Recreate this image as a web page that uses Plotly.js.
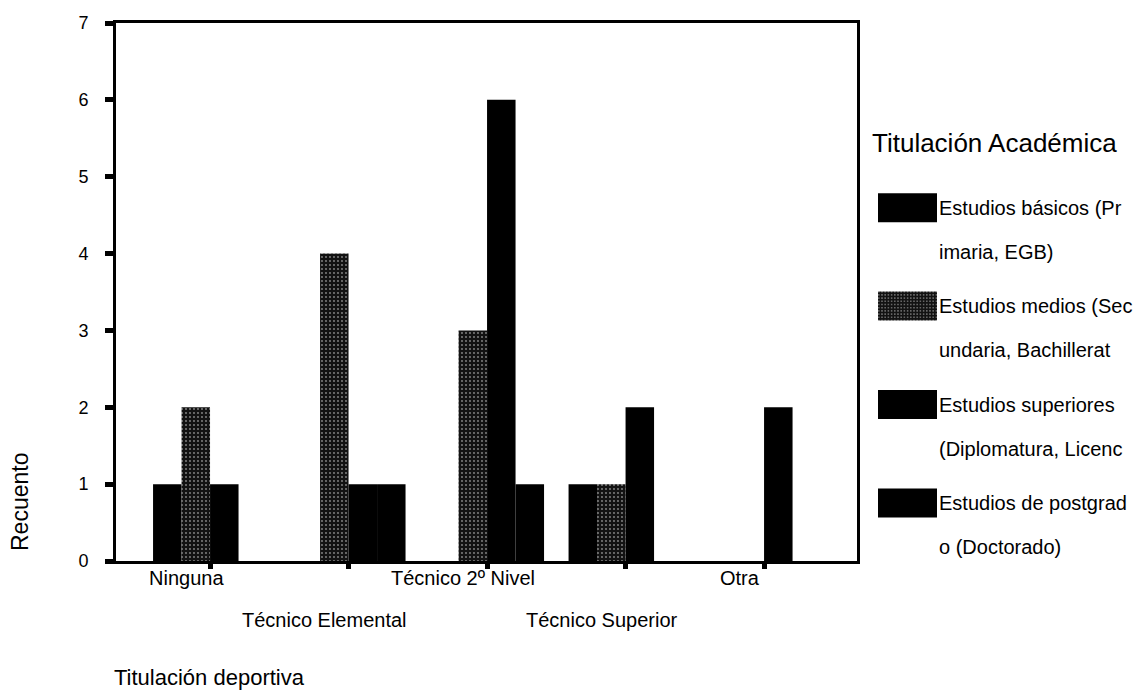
<!DOCTYPE html>
<html><head><meta charset="utf-8">
<script src="https://cdn.plot.ly/plotly-3.0.1.min.js"></script>
<style>html,body{margin:0;padding:0;background:#fff}</style>
</head><body>
<div id="chart" style="width:1141px;height:690px"></div>
<script>
const categories = ['Ninguna', 'Técnico Elemental', 'Técnico 2º Nivel', 'Técnico Superior', 'Otra'];
const seriesLines = [
  ['Estudios básicos (Pr', 'imaria, EGB)'],
  ['Estudios medios (Sec', 'undaria, Bachillerat'],
  ['Estudios superiores', '(Diplomatura, Licenc'],
  ['Estudios de postgrad', 'o (Doctorado)']
];
const basicos = [1, 0, 0, 1, 0];
const medios = [2, 4, 3, 1, 0];
const superiores = [1, 1, 6, 2, 2];
const postgrado = [0, 1, 1, 0, 0];
const yTicks = [0, 1, 2, 3, 4, 5, 6, 7];
const xTitle = 'Titulación deportiva';
const yTitle = 'Recuento';
const legendTitle = 'Titulación Académica';

const FONT = 'Liberation Sans, Arial, Helvetica, sans-serif';
const seriesValues = [basicos, medios, superiores, postgrado];
const plainFill = {color: '#000'};
const stippleFill = {color: '#141414', pattern: {shape: '.', bgcolor: '#121212', fgcolor: '#8c8c8c', size: 4, solidity: 0.16}};
const markers = [plainFill, stippleFill, plainFill, plainFill];

const traces = seriesValues.map((vals, i) => ({
  type: 'bar',
  x: categories,
  y: vals,
  name: seriesLines[i].map(l => '<span style="font-size:20px">' + l + '</span>').join('<br>'),
  legendgroup: 'g' + i,
  marker: Object.assign({line: {width: 0}}, markers[i]),
  hoverinfo: 'x+y'
}));

const L = 116, R = 857, T = 23, B = 561, W = 1141, H = 690;
const px2x = p => (p - L) / (R - L);
const px2y = p => (B - p) / (B - T);

const annotations = categories.map((c, i) => ({
  x: c, xref: 'x', y: 0, yref: 'paper', yanchor: 'middle', xanchor: 'center',
  xshift: -24, yshift: i % 2 === 0 ? -17 : -59,
  text: c, showarrow: false, font: {size: 20, color: '#000', family: FONT}
}));
annotations.push({
  x: px2x(112), xref: 'paper', xanchor: 'left', y: px2y(677), yref: 'paper', yanchor: 'middle',
  text: xTitle, showarrow: false, font: {size: 22, color: '#000', family: FONT}
});
annotations.push({
  x: px2x(20), xref: 'paper', xanchor: 'center', y: px2y(502), yref: 'paper', yanchor: 'middle',
  text: yTitle, textangle: -90, showarrow: false, font: {size: 23, color: '#000', family: FONT}
});
annotations.push({
  x: px2x(870), xref: 'paper', xanchor: 'left', y: px2y(143), yref: 'paper', yanchor: 'middle',
  text: legendTitle, showarrow: false, font: {size: 26, color: '#000', family: FONT}
});

const layout = {
  width: W, height: H,
  margin: {l: L, r: W - R, t: T, b: H - B, autoexpand: false},
  paper_bgcolor: '#fff', plot_bgcolor: '#fff',
  font: {family: FONT, color: '#000'},
  barmode: 'group', bargap: 0.177, bargroupgap: 0,
  showlegend: true,
  legend: {
    x: px2x(873), xanchor: 'left', y: px2y(173), yanchor: 'top',
    font: {size: 34, family: FONT, color: '#000'},
    itemwidth: 56, traceorder: 'grouped', tracegroupgap: 7,
    bgcolor: 'rgba(0,0,0,0)', borderwidth: 0
  },
  xaxis: {
    type: 'category', range: [-0.679, 4.671],
    showline: true, linewidth: 3, linecolor: '#000', mirror: true,
    ticks: 'outside', ticklen: 5, tickwidth: 5, tickcolor: '#000',
    showticklabels: false, showgrid: false, zeroline: false
  },
  yaxis: {
    range: [0, 7], tickmode: 'array', tickvals: yTicks,
    showline: true, linewidth: 3, linecolor: '#000', mirror: true,
    ticks: 'outside', ticklen: 8, tickwidth: 5, tickcolor: '#000',
    tickfont: {size: 18, family: FONT, color: '#000'}, ticklabelstandoff: 13,
    showgrid: false, zeroline: false
  },
  annotations: annotations
};

function fixLegend() {
  document.querySelectorAll('#chart .legend .legendpoints path').forEach(p => {
    p.setAttribute('d', 'M31,-1.5H-28V-30.5H31Z');
  });
}
Plotly.newPlot('chart', traces, layout, {displayModeBar: false, staticPlot: true}).then(gd => {
  fixLegend();
  gd.on('plotly_afterplot', fixLegend);
});
</script>
</body></html>
